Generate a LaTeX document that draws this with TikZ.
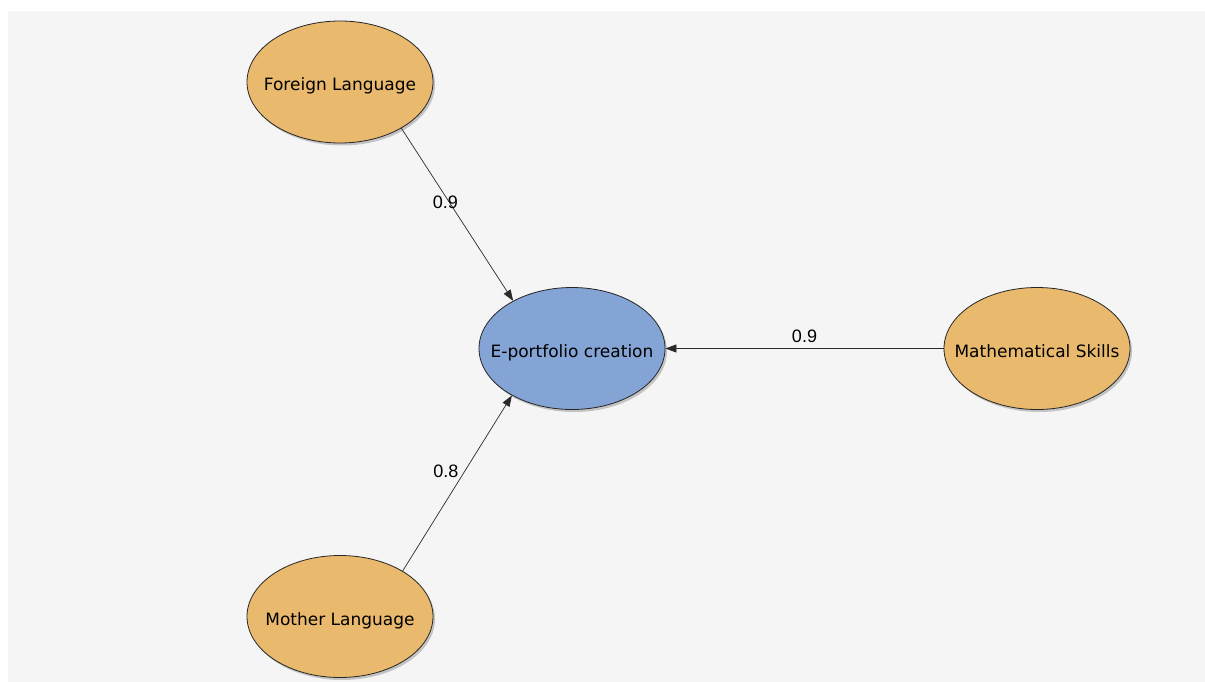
\documentclass[tikz,border=0pt]{standalone}
\usepackage{fontspec}
\setmainfont{DejaVu Sans}
\newfontfamily\labelfont{Liberation Sans}
\usetikzlibrary{shapes.geometric,arrows.meta,shadows}
\definecolor{bgc}{HTML}{F5F5F5}
\definecolor{orangec}{HTML}{E9BA6E}
\definecolor{bluec}{HTML}{84A4D6}
\definecolor{linec}{HTML}{2A2A2A}
\newcommand{\ctext}[1]{\raisebox{-8.5pt}[0pt][0pt]{\makebox[0pt]{#1}}}
\begin{document}
\begin{tikzpicture}[x=1pt,y=-1pt,
  construct/.style={ellipse,draw=black!85,line width=0.8pt,minimum width=186pt,minimum height=122pt,inner sep=0pt,
    font=\fontsize{17}{19}\selectfont,
    drop shadow={shadow xshift=2pt,shadow yshift=-2.5pt,opacity=0.35,fill=black!60}},
  latent/.style={construct,fill=orangec},
  target/.style={construct,fill=bluec},
  path/.style={draw=linec,line width=0.7pt,-{Triangle[length=11pt,width=8pt]}},
  weight/.style={font=\labelfont\fontsize{18}{20}\selectfont,inner sep=0pt}]
\useasboundingbox (0,0) rectangle (1205,682);
\fill[white] (0,0) rectangle (1205,682);
\fill[bgc] (8,11) rectangle (1205,682);
\node[latent] (F) at (340,82) {\ctext{Foreign Language}};
\node[target] (E) at (572,348.5) {\ctext{E-portfolio creation}};
\node[latent] (S) at (1037,348.5) {\ctext{Mathematical Skills}};
\node[latent] (M) at (340,616.5) {\ctext{Mother Language}};
\draw[path] (F.-37.5) -- node[weight,pos=0.43,xshift=-4pt] {0.9} (E.141);
\draw[path] (M.36.7) -- node[weight,pos=0.57,xshift=-19pt] {0.8} (E.218.2);
\draw[path] (S.west) -- node[weight,pos=0.5,yshift=12pt] {0.9} (E.east);
\end{tikzpicture}
\end{document}
